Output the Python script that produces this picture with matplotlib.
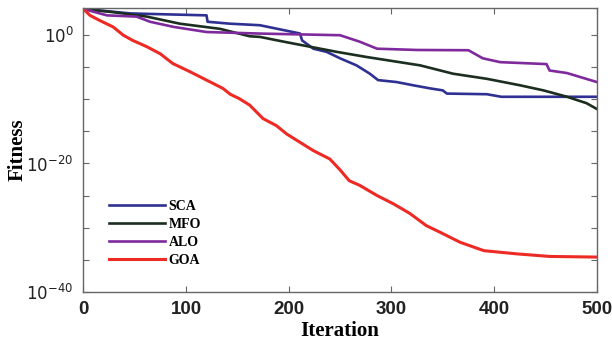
import numpy as np
import matplotlib
matplotlib.use('Agg')
import matplotlib.pyplot as plt

# Curvas de convergencia (exponente log10 del fitness)
sca_it = [0, 46, 120, 121, 143, 172, 195, 211, 213, 224, 237, 250, 266, 279, 287,
          305, 321, 338, 350, 354, 393, 407, 500]
sca_lg = [4.1, 3.4, 3.1, 2.1, 1.8, 1.56, 0.8, 0.27, -0.8, -2.1, -2.6, -3.6, -4.7, -6.0, -7.0,
          -7.3, -7.8, -8.3, -8.6, -9.1, -9.2, -9.6, -9.6]

mfo_it = [0, 29, 62, 94, 133, 162, 172, 195, 221, 247, 276, 308, 328, 360, 393,
          425, 448, 471, 490, 500]
mfo_lg = [4.1, 3.6, 2.9, 1.8, 1.0, -0.16, -0.26, -1.0, -1.8, -2.6, -3.4, -4.2, -4.7, -6.0, -6.8,
          -7.8, -8.6, -9.6, -10.6, -11.5]

alo_it = [0, 23, 52, 65, 88, 120, 172, 250, 269, 286, 325, 375, 389, 406, 451, 454, 471, 500]
alo_lg = [4.1, 3.1, 2.9, 2.1, 1.3, 0.5, 0.26, 0.0, -1.0, -2.1, -2.3, -2.34, -3.6, -4.2, -4.5,
          -5.5, -5.9, -7.3]

goa_it = [0, 2, 6.5, 16, 29, 39, 48, 62, 75, 87, 104, 120, 136, 143, 152, 162, 175, 188,
          198, 211, 224, 240, 250, 259, 269, 286, 302, 318, 334, 347, 367, 390, 422, 454, 500]
goa_lg = [4.1, 3.8, 3.1, 2.3, 1.3, 0.0, -0.8, -1.8, -2.9, -4.4, -5.7, -7.0, -8.3, -9.2, -9.9,
          -10.9, -13.0, -14.1, -15.4, -16.7, -18.0, -19.3, -21.0, -22.7, -23.4, -25.0, -26.3,
          -27.8, -29.7, -30.7, -32.3, -33.6, -34.1, -34.5, -34.6]

nombres = ['SCA', 'MFO', 'ALO', 'GOA']
colores = ['#2e3192', '#1c2e1f', '#7f2a9c', '#ee2a24']

x_ticks = [0, 100, 200, 300, 400, 500]
y_exps = list(range(-40, 1, 5))

plt.rcParams['mathtext.fontset'] = 'custom'
plt.rcParams['mathtext.rm'] = 'Liberation Sans:bold'
plt.rcParams['mathtext.bf'] = 'Liberation Sans:bold'

fig = plt.figure(figsize=(6.12, 3.49), dpi=100)
ax = fig.add_axes([0.1361, 0.1642, 0.8391, 0.812])

series = [(sca_it, sca_lg), (mfo_it, mfo_lg), (alo_it, alo_lg), (goa_it, goa_lg)]
for (it, lg), nombre, color in zip(series, nombres, colores):
    lw = 2.2 if nombre == 'GOA' else 1.9
    ax.plot(it, 10.0 ** np.array(lg), color=color, lw=lw, label=nombre)

ax.set_yscale('log')
ax.set_xlim(0, 500)
ax.set_ylim(1e-40, 10 ** 4.2)
ax.set_xticks(x_ticks)
ax.set_xticklabels([str(t) for t in x_ticks], fontfamily='Liberation Sans',
                   fontweight='bold', fontsize=13.5, color='#222222')
ax.set_yticks([10.0 ** e for e in y_exps])
ax.set_yticklabels([r'$\mathregular{10^{%d}}$' % e if e % 20 == 0 else '' for e in y_exps],
                   fontsize=12, color='#222222')
ax.minorticks_off()
ax.tick_params(direction='in', length=4, width=0.8, color='#666666',
               top=True, right=True, pad=7)

for s in ax.spines.values():
    s.set_color('#666666')
    s.set_linewidth(1.0)

ax.set_xlabel('Iteration', fontfamily='Liberation Serif', fontweight='bold',
              fontsize=15, labelpad=2)
ax.set_ylabel('Fitness', fontfamily='Liberation Serif', fontweight='bold',
              fontsize=15)
ax.yaxis.set_label_coords(-0.108, 0.5)

ax.legend(loc='upper left', bbox_to_anchor=(0.05, 0.325), frameon=False,
          prop={'family': 'Liberation Serif', 'weight': 'bold', 'size': 10},
          handlelength=4.0, handletextpad=0.3, labelspacing=0.36,
          borderpad=0, borderaxespad=0)

fig.savefig('out.png', dpi=100)
